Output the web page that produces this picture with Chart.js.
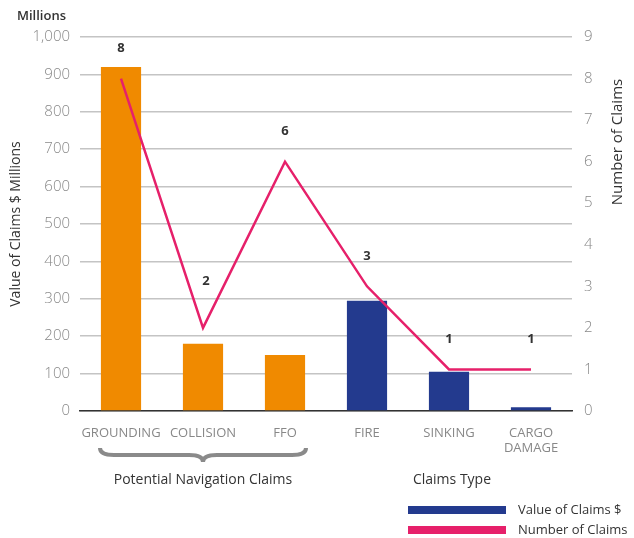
<!DOCTYPE html>
<html lang="en">
<head>
<meta charset="UTF-8">
<title>Claims Type</title>
<script src="https://cdn.jsdelivr.net/npm/chart.js"></script>
<style>
  html, body { margin: 0; padding: 0; background: #fff; }
  #wrap { width: 634px; height: 538px; position: relative; }
</style>
</head>
<body>
<div id="wrap"><canvas id="claimsChart"></canvas></div>
<script>
// data
const categories = ['GROUNDING', 'COLLISION', 'FFO', 'FIRE', 'SINKING', ['CARGO', 'DAMAGE']];
const claimValues = [920, 180, 150, 295, 105, 10];   // $ millions
const claimCounts = [8, 2, 6, 3, 1, 1];
const navigationGroup = 3; // first three categories are navigation claims

const ORANGE = '#F08A00';
const NAVY = '#233A8E';
const PINK = '#E6206A';
const FONT = '"Open Sans", "Noto Sans", sans-serif';

// extra text, brace and legend drawn on the canvas
const annotations = {
  id: 'annotations',
  afterDatasetsDraw(chart) {
    const ctx = chart.ctx;

    // count labels over the line
    const meta = chart.getDatasetMeta(0);
    ctx.save();
    ctx.font = 'bold 13px ' + FONT;
    ctx.fillStyle = '#333';
    ctx.textAlign = 'center';
    ctx.textBaseline = 'middle';
    meta.data.forEach((pt, i) => {
      const prev = claimCounts[i - 1], next = claimCounts[i + 1];
      const dip = prev !== undefined && next !== undefined && claimCounts[i] < prev && claimCounts[i] < next;
      ctx.fillText(String(claimCounts[i]), pt.x + (dip ? 3 : 0), pt.y - (dip ? 47 : 30));
    });
    ctx.restore();
  },
  afterDraw(chart) {
    const ctx = chart.ctx;
    const x = chart.scales.x;
    const area = chart.chartArea;
    ctx.save();

    ctx.fillStyle = '#333';
    ctx.font = '600 13px ' + FONT;
    ctx.textAlign = 'left';
    ctx.textBaseline = 'middle';
    ctx.fillText('Millions', 17, 16);

    // axis titles
    ctx.font = '14px ' + FONT;
    ctx.textAlign = 'center';
    ctx.save();
    ctx.translate(16, (area.top + area.bottom) / 2);
    ctx.rotate(-Math.PI / 2);
    ctx.fillText('Value of Claims $ Millions', 0, 0);
    ctx.restore();
    ctx.font = '15px ' + FONT;
    ctx.save();
    ctx.translate(618, 142);
    ctx.rotate(-Math.PI / 2);
    ctx.fillText('Number of Claims', 0, 0);
    ctx.restore();

    // brace under the navigation group
    const half = (x.getPixelForValue(1) - x.getPixelForValue(0)) / 2;
    const x0 = x.getPixelForValue(0) - half + 20;
    const x1 = x.getPixelForValue(navigationGroup - 1) + half - 20;
    const mid = (x0 + x1) / 2;
    const top = 448, bot = 460;
    ctx.strokeStyle = '#8a8a8a';
    ctx.lineWidth = 4;
    ctx.beginPath();
    ctx.moveTo(x0, top);
    ctx.quadraticCurveTo(x0, bot - 5, x0 + 14, bot - 5);
    ctx.lineTo(mid - 14, bot - 5);
    ctx.quadraticCurveTo(mid, bot - 5, mid, bot + 2);
    ctx.quadraticCurveTo(mid, bot - 5, mid + 14, bot - 5);
    ctx.lineTo(x1 - 14, bot - 5);
    ctx.quadraticCurveTo(x1, bot - 5, x1, top);
    ctx.stroke();

    ctx.fillStyle = '#333';
    ctx.font = '14px ' + FONT;
    ctx.fillText('Potential Navigation Claims', mid, 480);
    ctx.fillText('Claims Type', 452, 480);

    // legend
    ctx.textAlign = 'left';
    ctx.font = '13px ' + FONT;
    ctx.fillStyle = NAVY;
    ctx.fillRect(408, 506, 98, 8);
    ctx.fillStyle = PINK;
    ctx.fillRect(408, 526, 98, 8);
    ctx.fillStyle = '#333';
    ctx.fillText('Value of Claims $', 518, 510);
    ctx.fillText('Number of Claims', 518, 530);
    ctx.restore();
  }
};

new Chart(document.getElementById('claimsChart'), {
  data: {
    labels: categories,
    datasets: [
      {
        type: 'line',
        label: 'Number of Claims',
        data: claimCounts,
        yAxisID: 'y1',
        borderColor: PINK,
        borderWidth: 2.5,
        pointRadius: 0,
        tension: 0,
        order: 0
      },
      {
        type: 'bar',
        label: 'Value of Claims $',
        data: claimValues,
        yAxisID: 'y',
        backgroundColor: claimValues.map((v, i) => i < navigationGroup ? ORANGE : NAVY),
        barPercentage: 0.49,
        categoryPercentage: 1,
        order: 1
      }
    ]
  },
  options: {
    responsive: true,
    maintainAspectRatio: false,
    animation: false,
    layout: { padding: { top: 37, left: 0, right: 0, bottom: 0 } },
    plugins: {
      legend: { display: false },
      tooltip: { enabled: false }
    },
    scales: {
      x: {
        offset: true,
        grid: { display: false },
        border: { color: '#333', width: 1.5 },
        ticks: {
          color: '#888',
          font: { family: FONT, size: 13 },
          padding: 6,
          maxRotation: 0,
          autoSkip: false
        },
        afterFit(s) { s.height = 127; }
      },
      y: {
        position: 'left',
        min: 0,
        max: 1000,
        ticks: {
          stepSize: 100,
          color: '#888',
          font: { family: FONT, size: 15, weight: '300' },
          padding: 10,
          callback: v => v.toLocaleString('en-US')
        },
        grid: { color: '#c4c4c4', lineWidth: 1.5, drawTicks: false },
        border: { display: false },
        afterFit(s) { s.width = 80; }
      },
      y1: {
        position: 'right',
        min: 0,
        max: 9,
        ticks: {
          stepSize: 1,
          color: '#888',
          font: { family: FONT, size: 15, weight: '300' },
          padding: 12
        },
        grid: { drawOnChartArea: false, drawTicks: false },
        border: { display: false },
        afterFit(s) { s.width = 62; }
      }
    }
  },
  plugins: [annotations]
});
</script>
</body>
</html>
